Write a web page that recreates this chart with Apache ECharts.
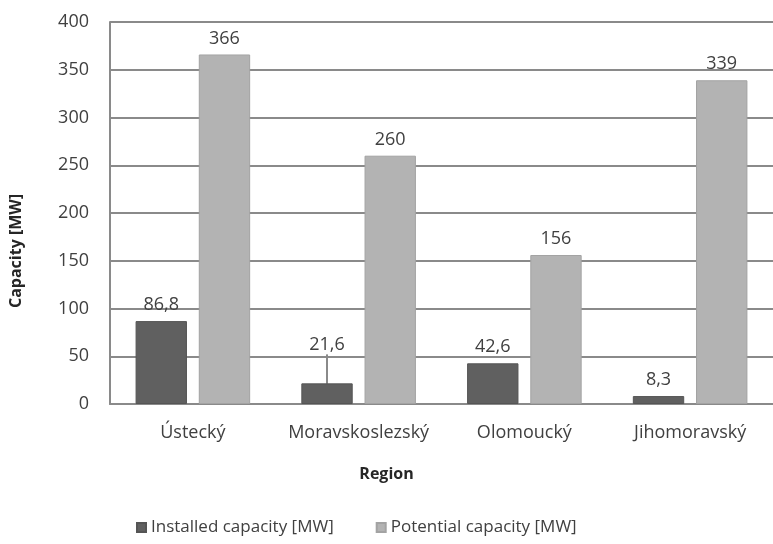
<!DOCTYPE html>
<html>
<head>
<meta charset="utf-8">
<script src="https://cdn.jsdelivr.net/npm/echarts@6/dist/echarts.min.js"></script>
<style>
  html, body { margin: 0; padding: 0; background: #fff; }
  #chart { width: 773px; height: 544px; }
</style>
</head>
<body>
<div id="chart"></div>
<script>
var regions = ['Ústecký', 'Moravskoslezský', 'Olomoucký', 'Jihomoravský']
var installed = [86.8, 21.6, 42.6, 8.3]
var potential = [366, 260, 156, 339]
var yTicks = [0, 50, 100, 150, 200, 250, 300, 350, 400]
// label that was pulled up with a leader line in the original
var movedLabel = 1

var font = '"Open Sans", "Noto Sans", sans-serif'
var txt = '#404040'
var gridGray = '#8a8a8a'

// czech decimal comma
function comma(p) {
    return String(p.value).replace('.', ',')
}

var installedData = installed.map(function (v, i) {
    if (i === movedLabel) return { value: v, labelLine: { show: true } }
    return v
})

var chart = echarts.init(document.getElementById('chart'))
var option = {
    animation: false,
    textStyle: { fontFamily: font },
    title: {
        text: 'Region',
        left: 'center',
        top: 461,
        textStyle: { fontFamily: font, fontSize: 16, fontWeight: 'bold', color: '#262626' }
    },
    grid: { left: 110, top: 22, width: 667, height: 382 },
    legend: {
        left: 131,
        top: 514,
        itemWidth: 9,
        itemHeight: 9,
        itemGap: 42,
        icon: 'rect',
        textStyle: { fontFamily: font, fontSize: 17, color: txt }
    },
    xAxis: {
        type: 'category',
        data: regions,
        axisLine: { show: true, lineStyle: { color: gridGray, width: 2 } },
        axisTick: { show: false },
        axisLabel: { interval: 0, margin: 20, fontSize: 18, color: txt, fontFamily: font }
    },
    yAxis: {
        type: 'value',
        min: yTicks[0],
        max: yTicks[yTicks.length - 1],
        interval: 50,
        name: 'Capacity [MW]',
        nameLocation: 'middle',
        nameGap: 86,
        nameTextStyle: { fontFamily: font, fontSize: 16, fontWeight: 'bold', color: '#262626', padding: [0, 76, 0, 0] },
        axisLine: { show: true, lineStyle: { color: gridGray, width: 2 } },
        axisTick: { show: false },
        axisLabel: { margin: 21, fontSize: 18, color: txt, fontFamily: font },
        splitLine: { show: true, lineStyle: { color: gridGray, width: 2 } }
    },
    series: [
        {
            name: 'Installed capacity [MW]',
            type: 'bar',
            data: installedData,
            barWidth: '31%',
            barGap: '23%',
            itemStyle: { color: '#606060', borderColor: '#555555', borderWidth: 1 },
            label: { show: true, position: 'top', distance: 7, fontSize: 18, color: txt, fontFamily: font, formatter: comma },
            labelLine: { show: false, lineStyle: { color: gridGray, width: 2 } },
            labelLayout: function (params) {
                if (params.dataIndex === movedLabel) return { dy: -22 }
            }
        },
        {
            name: 'Potential capacity [MW]',
            type: 'bar',
            data: potential,
            barWidth: '31%',
            itemStyle: { color: '#b3b3b3', borderColor: '#a3a3a3', borderWidth: 1 },
            label: { show: true, position: 'top', distance: 7, fontSize: 18, color: txt, fontFamily: font, formatter: comma }
        }
    ]
}
chart.setOption(option)
</script>
</body>
</html>
